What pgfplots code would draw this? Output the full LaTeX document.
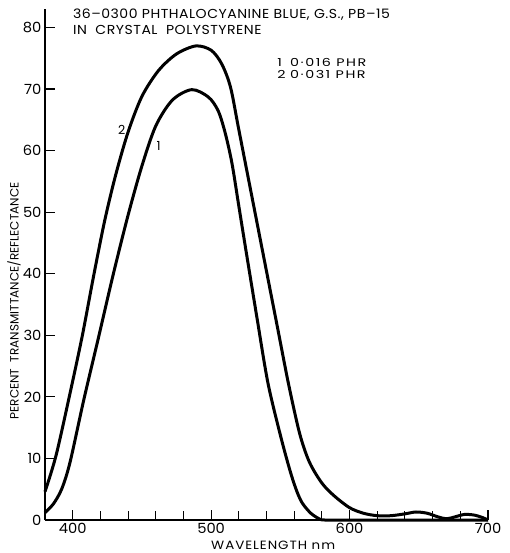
\documentclass[border=0pt]{standalone}
\usepackage{fontspec}
\setmainfont{Poppins}
\usepackage{pgfplots}
\usepackage{pgfplotstable}
\pgfplotsset{compat=1.18}

% Transmittance spectra, wavelength (nm) vs percent
\pgfplotstableread{
wl T
380 4.6
388 10.5
398 20.5
407 30
415 39.5
423 48.5
431 56
440 63
450 68.8
462 73
475 75.7
489 77
500 76.3
507.6 74.1
514 70.3
520 63.4
530 51.9
540 40.4
548 31.2
556 22
564 14
571 9.4
580 6.0
589 3.9
600 2.0
610 1.1
620 0.7
630 0.7
640 1.0
648 1.3
656 1.1
664 0.5
670 0.2
676 0.5
683 0.9
690 0.8
696 0.4
700 0.0
}\curvetwo

\pgfplotstableread{
wl T
380 1.2
386 2.6
392 5
398 9.3
408 19.5
418.5 29.5
429.3 39.9
440 49.5
450 57.5
460 64
472 68.2
486 69.9
498 68.7
505 66.5
510 63
515 58
520 51
525 44
533 33
541 22.3
550 13.8
557 8
562 4.6
566 2.7
572 1.1
578 0.2
582 0
600 0
700 0
}\curveone

\newcommand\tickfont{\fontsize{14}{14}\selectfont\addfontfeatures{FakeStretch=1.05}}
\newcommand\labelfont{\fontsize{12}{12}\selectfont\addfontfeatures{FakeStretch=1.12,LetterSpace=8}}
\newcommand\titlefont{\fontsize{13}{13}\selectfont\addfontfeatures{FakeStretch=1.08,LetterSpace=4}}
\newcommand\keyfont{\fontsize{11}{11}\selectfont\addfontfeatures{FakeStretch=1.3,LetterSpace=14}}

\begin{document}
\begin{tikzpicture}
\begin{axis}[
  name=ax,
  scale only axis,
  width=443pt, height=511pt,
  xmin=380, xmax=700, ymin=0, ymax=83,
  axis x line=bottom, axis y line=left,
  axis line style={-, line width=1.8pt},
  xtick={400,500,600,700},
  minor xtick={420,440,460,480,520,540,560,580,620,640,660,680},
  ytick={0,10,...,80},
  xtick align=inside, ytick align=inside,
  xtick pos=bottom, ytick pos=left,
  major tick length=10pt, minor tick length=9pt,
  every tick/.style={black, line width=1.1pt},
  every minor tick/.style={black, line width=1.1pt},
  ticklabel style={font=\tickfont},
  /pgf/number format/assume math mode=true,
  xlabel={WAVELENGTH nm},
  ylabel={PERCENT\ \ TRANSMITTANCE/REFLECTANCE},
  xlabel style={font=\labelfont, at={(axis description cs:0.515,-0.05)}, anchor=center},
  ylabel style={font=\fontsize{12}{12}\selectfont, at={(axis description cs:-0.07,0.429)}, anchor=center},
  clip=false,
]
\addplot[black, line width=3pt, smooth, tension=0.5] table[x=wl, y=T] {\curvetwo};
\addplot[black, line width=3pt, smooth, tension=0.5] table[x=wl, y=T] {\curveone};

\node[anchor=base west, inner sep=0pt, font=\titlefont] at (axis description cs:0.063,0.981) {36--0300 PHTHALOCYANINE BLUE, G.S., PB--15};
\node[anchor=base west, inner sep=0pt, font=\titlefont] at (axis description cs:0.063,0.951) {IN\ \ CRYSTAL\ \ POLYSTYRENE};

% concentration key
\node[anchor=base west, inner sep=0pt, font=\keyfont] at (axis description cs:0.524,0.888) {1};
\node[anchor=base west, inner sep=0pt, font=\keyfont] at (axis description cs:0.553,0.888) {0·016\ PHR};
\node[anchor=base west, inner sep=0pt, font=\keyfont] at (axis description cs:0.524,0.863) {2};
\node[anchor=base west, inner sep=0pt, font=\keyfont] at (axis description cs:0.553,0.863) {0·031\ PHR};

\node[font=\fontsize{12.5}{12.5}\selectfont] at (axis cs:435.4,63.3) {2};
\node[font=\fontsize{12.5}{12.5}\selectfont] at (axis cs:462,60.8) {1};
\end{axis}
\pgfresetboundingbox
\path ([xshift=-45pt,yshift=-33pt]ax.south west) rectangle ([xshift=21pt,yshift=9pt]ax.north east);
\end{tikzpicture}
\end{document}
